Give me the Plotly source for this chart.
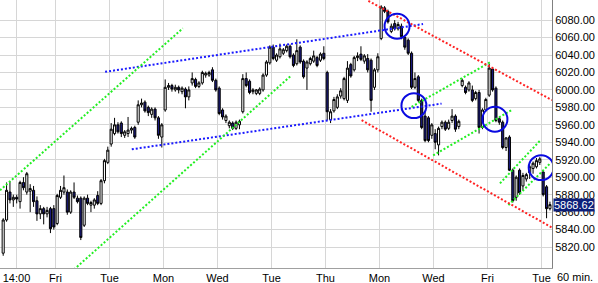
import plotly.graph_objects as go

# ---- data: hourly candles (bar index = time order) ----
opens = [5813,5851,5883,5874,5877,5872,5894,5883,5884,5885,5873,5858,5864,5858,5864,5864,
         5847,5877,5883,5883,5860,5883,5876,5876,5845,5876,5868,5868,5879,5870,5896,5917,
         5938,5950,5960,5962,5948,5950,5954,5957,5963,5983,5986,5980,5972,5978,5968,5946,
         5977,6003,6005,6000,6003,5998,6001,5992,6008,6012,6004,6008,6017,6017,6023,6011,
         6002,5977,5965,5959,5962,5956,5960,5975,6013,6010,5998,5996,5996,6000,6017,6031,
         6049,6034,6038,6042,6045,6050,6040,6030,6049,6033,6025,6030,6033,6037,6034,6042,
         6020,5966,5976,5980,5993,5990,5988,6029,6023,6037,6041,6033,6036,6034,6003,6023,
         6059,6094,6090,6067,6076,6070,6073,6060,6057,6042,6003,6015,5988,5970,5968,5948,
         5950,5937,5958,5963,5956,5965,5970,5958,6005,6003,6000,6000,5990,5997,5957,5977,
         5994,6024,6002,5967,5963,5934,5946,5908,5877,5908,5890,5898,5905,5910,5912,5917,
         5906,5889,5864]
highs = [5853,5894,5895,5880,5880,5896,5900,5906,5892,5890,5878,5868,5866,5866,5866,5868,
         5881,5890,5902,5886,5885,5894,5879,5878,5878,5880,5873,5876,5884,5898,5921,5935,
         5962,5968,5963,5964,5954,5969,5958,5959,5988,5990,5988,5982,5980,5980,5970,5962,
         6012,6008,6007,6006,6005,6004,6003,6004,6020,6014,6010,6022,6021,6022,6026,6013,
         6004,5979,5972,5965,5964,5965,5966,6018,6020,6012,6002,6001,6003,6019,6034,6051,
         6052,6042,6053,6048,6052,6052,6042,6058,6051,6035,6034,6038,6045,6039,6043,6050,
         6022,5978,5992,5995,6002,6015,6033,6031,6039,6043,6050,6041,6041,6036,6025,6042,
         6097,6096,6092,6076,6080,6078,6076,6062,6059,6044,6020,6017,5990,5975,5970,5962,
         5955,5958,5965,5965,5966,5978,5972,5966,6013,6005,6010,6005,5999,6000,5979,5991,
         6030,6026,6004,5969,5965,5946,5948,5910,5902,5910,5905,5905,5914,5918,5922,5923,
         5908,5891,5872]
lows = [5810,5849,5870,5866,5870,5864,5885,5880,5860,5866,5850,5852,5846,5854,5836,5840,
        5845,5875,5880,5857,5858,5875,5870,5828,5843,5868,5860,5864,5868,5868,5893,5915,
        5935,5948,5950,5946,5945,5946,5950,5944,5960,5980,5974,5970,5968,5965,5944,5934,
        5975,6000,5998,5998,5996,5995,5979,5988,6005,6002,6002,6006,6014,6015,6009,5998,
        5971,5966,5962,5956,5954,5954,5955,5973,6003,5995,5995,5994,5994,5998,6015,6029,
        6034,6032,6036,6040,6043,6036,6026,6028,6030,6013,6000,6028,6031,6026,6032,6034,
        5965,5962,5974,5978,5990,5988,5985,6014,6021,6033,6033,6030,6020,5975,6000,6020,
        6057,6088,6076,6065,6068,6068,6058,6046,6040,6001,6001,5986,5955,5940,5940,5944,
        5932,5925,5955,5953,5954,5962,5952,5955,6003,5995,5998,5986,5988,5950,5955,5975,
        5992,5998,5963,5960,5932,5930,5907,5871,5873,5880,5885,5895,5898,5904,5910,5914,
        5878,5853,5862]
closes = [5851,5885,5874,5877,5875,5894,5888,5904,5887,5872,5858,5864,5858,5862,5841,5843,
          5879,5885,5888,5860,5883,5877,5872,5831,5876,5870,5871,5874,5870,5896,5919,5931,
          5955,5960,5952,5950,5952,5954,5956,5946,5983,5985,5976,5974,5978,5968,5948,5960,
          6003,6005,6001,6003,6000,6002,5992,6000,6013,6004,6008,6020,6019,6020,6011,6000,
          5973,5969,5970,5963,5956,5963,5964,6013,6005,5997,6000,6000,6001,6017,6032,6049,
          6036,6040,6047,6046,6050,6038,6028,6045,6032,6015,6032,6036,6039,6028,6041,6036,
          5975,5975,5989,5992,5999,6013,6025,6016,6037,6039,6035,6039,6023,5988,6023,6038,
          6095,6090,6078,6073,6070,6075,6061,6049,6042,6003,6013,5988,5957,5942,5942,5960,
          5940,5956,5963,5955,5963,5970,5955,5964,6011,5997,6008,5988,5997,5957,5977,5989,
          6025,6000,5965,5963,5934,5945,5908,5873,5900,5882,5902,5903,5912,5916,5919,5921,
          5880,5864,5868.62]
bars = list(range(len(closes)))

# x-axis labels (bar position of each gridline) and y ticks
tick_pos = [3.94, 15.5, 31.5, 47.5, 63.5, 79.5, 95.5, 111.5, 127.5, 143.5, 159.5]
tick_text = ["14:00", "Fri", "Tue", "Mon", "Wed", "Tue", "Thu", "Mon", "Wed", "Fri", "Tue"]
y_ticks = [5820, 5840, 5860, 5880, 5900, 5920, 5940, 5960, 5980, 6000, 6020, 6040, 6060, 6080]
last_price = 5868.62

# drawn trend lines: (bar0, price0, bar1, price1, colour)
trend_lines = [
    (30.2, 6020.7, 124.4, 6075.4, "#1a1aff"),
    (38.1, 5932.0, 129.9, 5984.3, "#1a1aff"),
    (-0.95, 5885.0, 53.2, 6070.5, "#22ee22"),
    (18.3, 5785.0, 85.5, 6017.0, "#22ee22"),
    (121.0, 5980.6, 144.4, 6032.0, "#22ee22"),
    (127.4, 5925.0, 150.7, 5977.0, "#22ee22"),
    (147.2, 5893.0, 159.1, 5942.0, "#22ee22"),
    (149.7, 5868.0, 162.0, 5915.6, "#22ee22"),
    (108.2, 6102.0, 162.6, 5988.3, "#ff2222"),
    (106.2, 5965.3, 162.6, 5842.3, "#ff2222"),
]
# marked circles: (bar centre, price centre)
circles = [(116.7, 6073.0), (121.7, 5982.0), (145.7, 5966.5), (159.4, 5911.0)]
circle_rx, circle_ry = 3.7, 14.3

fig = go.Figure()
fig.add_trace(go.Candlestick(
    x=bars, open=opens, high=highs, low=lows, close=closes,
    increasing=dict(line=dict(color="black", width=1), fillcolor="white"),
    decreasing=dict(line=dict(color="black", width=1), fillcolor="#1a1a80"),
    whiskerwidth=0, showlegend=False, hoverinfo="skip",
))

shapes = []
for x0, y0, x1, y1, col in trend_lines:
    shapes.append(dict(type="line", xref="x", yref="y", x0=x0, y0=y0, x1=x1, y1=y1,
                       line=dict(color=col, width=2, dash="2px,2px"), layer="above"))
for cx, cy in circles:
    shapes.append(dict(type="circle", xref="x", yref="y",
                       x0=cx - circle_rx, x1=cx + circle_rx, y0=cy - circle_ry, y1=cy + circle_ry,
                       line=dict(color="#0a0ae0", width=2), layer="above"))

fig.update_layout(
    width=598, height=283,
    margin=dict(l=0, r=46, t=0, b=15),
    paper_bgcolor="white", plot_bgcolor="white",
    boxgap=0.12,
    font=dict(family="Arial, Liberation Sans, sans-serif", size=11, color="black"),
    shapes=shapes,
    xaxis=dict(range=[-0.945, 162.61], tickvals=tick_pos, ticktext=tick_text,
               showgrid=True, gridcolor="#d6d6d6", gridwidth=1, zeroline=False,
               showline=True, linecolor="#a0a0a0", linewidth=1, ticks="",
               rangeslider=dict(visible=False), tickfont=dict(size=11)),
    yaxis=dict(range=[5796, 6103], side="right", tickvals=y_ticks, tickformat=".2f",
               showgrid=True, gridcolor="#d6d6d6", gridwidth=1, zeroline=False,
               showline=True, linecolor="#808080", linewidth=1, ticks="",
               tickfont=dict(size=11)),
    annotations=[
        dict(xref="paper", yref="y", x=1, y=last_price, xanchor="left", yanchor="middle",
             xshift=1, text="5868.62", showarrow=False, bgcolor="#0c1f7a",
             font=dict(color="white", size=11), borderpad=0),
        dict(xref="paper", yref="paper", x=1.0417, y=-0.034, xanchor="center", yanchor="middle",
             text="60 min.", showarrow=False, font=dict(size=11)),
    ],
)

fig.write_html("out.html")
